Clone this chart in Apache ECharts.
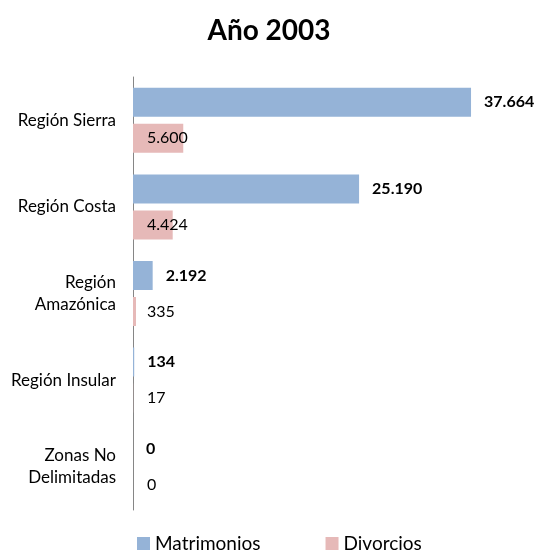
<!DOCTYPE html>
<html>
<head>
<meta charset="utf-8">
<script src="https://cdn.jsdelivr.net/npm/echarts@6/dist/echarts.min.js"></script>
<style>
  html, body { margin: 0; padding: 0; background: #fff; }
  #chart { width: 538px; height: 554px; }
</style>
</head>
<body>
<div id="chart"></div>
<script>
// datos del gráfico
const regiones = ['Región Sierra', 'Región Costa', 'Región\nAmazónica', 'Región Insular', 'Zonas No\nDelimitadas'];
const matrimonios = [37664, 25190, 2192, 134, 0];
const divorcios = [5600, 4424, 335, 17, 0];

const fmt = (v) => String(v).replace(/\B(?=(\d{3})+(?!\d))/g, '.');
const fuente = 'Lato, "Open Sans", sans-serif';

const myChart = echarts.init(document.getElementById('chart'));
const option = {
    animation: false,
    title: {
        text: 'Año 2003',
        left: 'center',
        top: 12,
        textStyle: { color: '#000', fontSize: 28, fontWeight: 'bold', fontFamily: fuente }
    },
    legend: {
        data: ['Matrimonios', 'Divorcios'],
        top: 534,
        left: 137,
        padding: 0,
        itemWidth: 13,
        itemHeight: 13,
        itemGap: 65,
        icon: 'rect',
        itemStyle: { borderWidth: 0 },
        textStyle: { color: '#000', fontSize: 19, fontFamily: fuente }
    },
    grid: { left: 133, right: 46, top: 77, bottom: 44 },
    xAxis: {
        type: 'value',
        min: 0,
        max: 40000,
        show: false,
        splitLine: { show: false }
    },
    yAxis: {
        type: 'category',
        inverse: true,
        data: regiones,
        axisLine: { show: true, lineStyle: { color: '#868686', width: 1 } },
        axisTick: { show: false },
        axisLabel: {
            margin: 17,
            color: '#000',
            fontSize: 17,
            lineHeight: 22,
            fontFamily: fuente
        }
    },
    series: [
        {
            name: 'Matrimonios',
            type: 'bar',
            data: matrimonios,
            barWidth: 29,
            barGap: '24%',
            barCategoryGap: '25%',
            itemStyle: { color: '#95B3D7' },
            label: {
                show: true,
                position: 'right',
                distance: 13,
                color: '#000',
                fontWeight: 'bold',
                fontSize: 16,
                fontFamily: fuente,
                formatter: (p) => fmt(p.value)
            }
        },
        {
            name: 'Divorcios',
            type: 'bar',
            data: divorcios,
            barWidth: 29,
            itemStyle: { color: '#E6B9B8' },
            label: {
                show: true,
                position: 'insideLeft',
                distance: 14,
                color: '#000',
                textBorderWidth: 0,
                fontSize: 16,
                fontFamily: fuente,
                formatter: (p) => fmt(p.value)
            }
        }
    ]
};
myChart.setOption(option);
window.addEventListener('resize', () => {
    myChart.resize();
});
</script>
</body>
</html>
